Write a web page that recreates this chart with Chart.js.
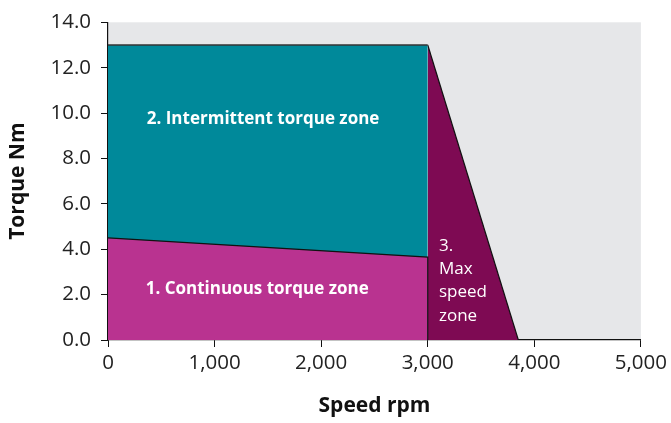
<!DOCTYPE html>
<html>
<head>
<meta charset="utf-8">
<script src="https://cdn.jsdelivr.net/npm/chart.js@4"></script>
<style>
  body { margin: 0; background: #fff; }
</style>
</head>
<body>
<canvas id="torqueChart" width="671" height="423"></canvas>
<script>
// torque envelope corners (speed in rpm, torque in Nm)
const continuousZone = [{x: 0, y: 4.5}, {x: 3000, y: 3.65}, {x: 3000, y: 0}];
const intermittentZone = [{x: 0, y: 13}, {x: 3000, y: 13}];
const maxSpeedZone = [{x: 3000, y: 13}, {x: 3850, y: 0}];

const zoneNames = ['1. Continuous torque zone', '2. Intermittent torque zone', '3. Max speed zone'];
const maxSpeedLines = ['3.', 'Max', 'speed', 'zone'];

const FONT = '"Open Sans"';

const plotBackground = {
    id: 'plotBackground',
    beforeDraw(chart) {
        const {ctx, chartArea: a} = chart;
        ctx.save();
        ctx.fillStyle = '#e6e7e9';
        ctx.fillRect(a.left, a.top, a.right - a.left, a.bottom - a.top);
        ctx.restore();
    }
};

const zoneLabels = {
    id: 'zoneLabels',
    afterDatasetsDraw(chart) {
        const {ctx, scales: {x, y}} = chart;
        ctx.save();
        ctx.fillStyle = '#fff';
        ctx.textBaseline = 'middle';
        ctx.textAlign = 'center';
        ctx.font = `bold 17px ${FONT}`;
        ctx.fillText(zoneNames[1], x.getPixelForValue(1455), y.getPixelForValue(9.75));
        ctx.fillText(zoneNames[0], x.getPixelForValue(1400), y.getPixelForValue(2.25));
        ctx.textAlign = 'left';
        ctx.font = `17px ${FONT}`;
        maxSpeedLines.forEach((t, i) => {
            ctx.fillText(t, x.getPixelForValue(3105), y.getPixelForValue(4.15) + i * 23.3);
        });
        ctx.restore();
    }
};

new Chart(document.getElementById('torqueChart'), {
    type: 'scatter',
    data: {
        datasets: [
            {
                data: continuousZone,
                showLine: true,
                fill: 'origin',
                backgroundColor: '#b93390',
                borderColor: '#111',
                borderWidth: 1.2,
                pointRadius: 0
            },
            {
                data: intermittentZone,
                showLine: true,
                fill: 'origin',
                backgroundColor: '#00899a',
                borderColor: '#333',
                borderWidth: 1.5,
                pointRadius: 0
            },
            {
                data: maxSpeedZone,
                showLine: true,
                fill: 'origin',
                backgroundColor: '#7e0a53',
                borderColor: '#111',
                borderWidth: 1.2,
                pointRadius: 0
            }
        ]
    },
    options: {
        responsive: false,
        animation: false,
        layout: {padding: {top: 16, right: 28, left: 0, bottom: 0}},
        plugins: {legend: {display: false}, tooltip: {enabled: false}},
        scales: {
            x: {
                type: 'linear',
                min: 0,
                max: 5000,
                afterFit(s) { s.height = 83; },
                ticks: {
                    stepSize: 1000,
                    color: '#222',
                    padding: 4,
                    font: {family: FONT, size: 20.5},
                    callback: v => v.toLocaleString('en-US')
                },
                grid: {drawOnChartArea: false, drawTicks: true, tickLength: 7, color: '#111'},
                border: {color: '#111', width: 1.2},
                title: {
                    display: true,
                    text: 'Speed rpm',
                    color: '#111',
                    font: {family: FONT, size: 21, weight: 'bold'},
                    padding: {top: 11}
                }
            },
            y: {
                min: 0,
                max: 14,
                afterFit(s) { s.width = 108; },
                ticks: {
                    stepSize: 2,
                    color: '#222',
                    padding: 10,
                    font: {family: FONT, size: 20.5},
                    callback: v => v.toFixed(1)
                },
                grid: {drawOnChartArea: false, drawTicks: true, tickLength: 7, color: '#111'},
                border: {color: '#111', width: 1.2},
                title: {
                    display: true,
                    text: 'Torque Nm',
                    color: '#111',
                    font: {family: FONT, size: 21, weight: 'bold'},
                    padding: {bottom: 0, top: 5}
                }
            }
        }
    },
    plugins: [plotBackground, zoneLabels]
});
</script>
</body>
</html>
